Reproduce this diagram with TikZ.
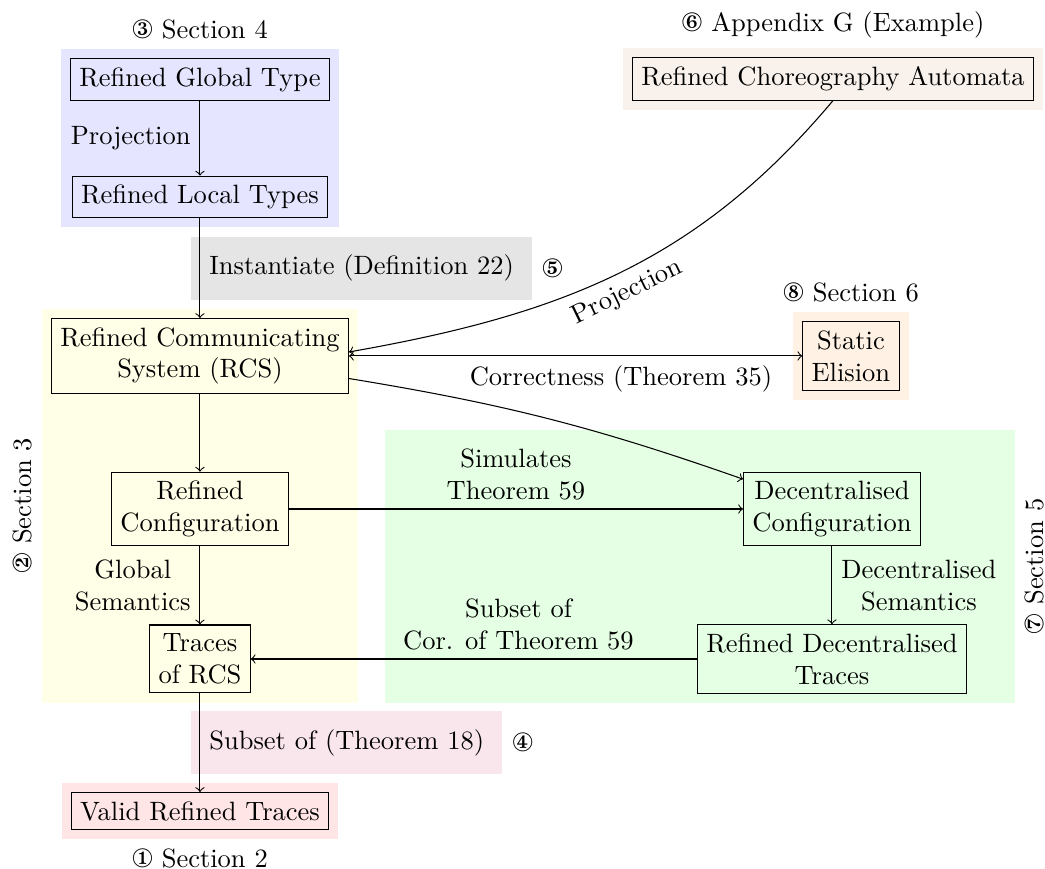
\documentclass[tikz,border=0pt]{standalone}
\usepackage{pifont}
\usetikzlibrary{positioning,fit,backgrounds}

\begin{document}
\begin{tikzpicture}[box/.style={draw,align=center}, zone/.style={inner sep=3.4pt}]
\useasboundingbox (0,0) rectangle (13.86,-11.525);

% left column
\node[box] (RGT) at (2.652,-1.054) {Refined Global Type};
\node[box] (RLT) at (2.652,-2.613) {Refined Local Types};
\node[box] (RCS) at (2.652,-4.721) {Refined Communicating\\System (RCS)};
\node[box] (RConf) at (2.652,-6.751) {Refined\\Configuration};
\node[box] (TRCS) at (2.652,-8.740) {Traces\\of RCS};
\node[box] (VRT) at (2.652,-10.756) {Valid Refined Traces};
% right side
\node[box] (RCA) at (11.048,-1.048) {Refined Choreography Automata};
\node[box] (SE) at (11.286,-4.721) {Static\\Elision};
\node[box] (DConf) at (11.034,-6.751) {Decentralised\\Configuration};
\node[box] (RDT) at (11.034,-8.740) {Refined Decentralised\\Traces};

\draw[->] (RGT) -- node[left] (proj) {Projection} (RLT);
\draw[->] (RLT) -- node[right] (inst) {Instantiate (Definition 22)} (RCS);
\draw[->] (RCS) -- (RConf);
\draw[->] (RConf) -- node[left,align=center] (gsem) {Global\\Semantics} (TRCS);
\draw[->] (TRCS) -- node[right] (sub18) {Subset of (Theorem 18)} (VRT);
\draw[->] (RConf) -- node[above,align=center] (sim) {Simulates\\Theorem 59} (DConf);
\draw[->] (DConf) -- node[right,align=center] (dsem) {Decentralised\\Semantics} (RDT);
\draw[->] (RDT) -- node[above,align=center,pos=0.4] (cor) {Subset of\\Cor. of Theorem 59} (TRCS);
\draw[<->] (RCS.east) -- node[below,pos=0.6] (corr) {Correctness (Theorem 35)} (SE);
\draw[->] (RCS) to[bend left=5] (DConf);
\draw[->] (RCA.south) to[out=-130,in=10] node[sloped,below] (proj2) {Projection} ([yshift=1.5pt]RCS.east);

% shaded sections
\begin{scope}[on background layer]
\node[fit=(RGT)(RLT), fill=blue!10, zone, label=above:{\ding{174} Section 4}] (sec4) {};
\node[fit=(inst), fill=gray!20, zone, label=right:{\ding{176}}] (def22) {};
\node[fit=(RCS)(TRCS), fill=yellow!10, zone] (sec3) {};
\node[fit=(sub18), fill=purple!10, zone, label=right:{\ding{175}}] (thm18) {};
\node[fit=(VRT), fill=red!10, zone, label=below:{\ding{172} Section 2}] (sec2) {};
\node[fit=(RCA), fill=brown!10, zone, label=above:{\ding{177} Appendix G (Example)}] (appG) {};
\node[fit=(SE), fill=orange!10, zone, label=above:{\ding{179} Section 6}] (sec6) {};
\node[fit=(DConf)(RDT)(sim)(cor)(dsem), fill=green!10, zone] (sec5) {};
\end{scope}
\node[rotate=90, anchor=south] (lsec3) at (sec3.west) {\ding{173} Section 3};
\node[rotate=90, anchor=north] (lsec5) at (sec5.east) {\ding{178} Section 5};
\end{tikzpicture}
\end{document}
